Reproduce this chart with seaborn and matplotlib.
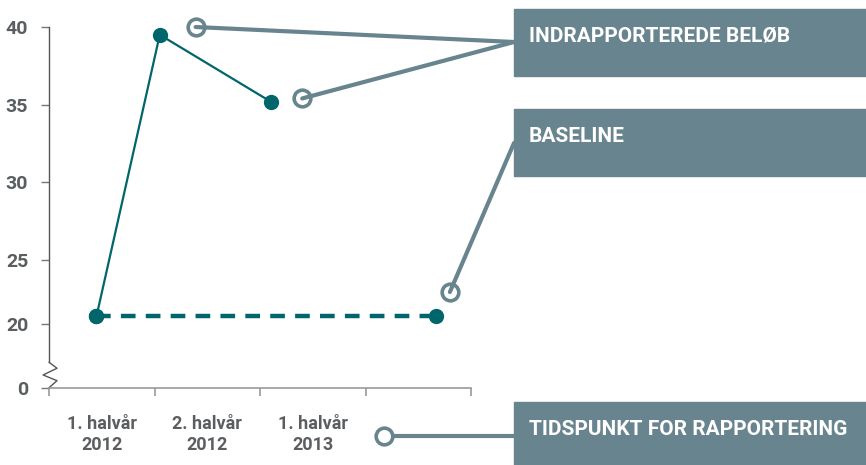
import numpy as np
import seaborn as sns
import matplotlib.pyplot as plt
from matplotlib.patches import Rectangle, ConnectionPatch
from matplotlib.lines import Line2D

# data
periods = ["1. halvår\n2012", "2. halvår\n2012", "1. halvår\n2013"]
rep_x = [0.45, 1.05, 2.1]
rep_y = [20.6, 39.5, 35.2]
base_x = [0.45, 3.67]
base_y = [20.6, 20.6]
y_ticks = [0, 20, 25, 30, 35, 40]

# annotation labels and the points they point at
labels = ["INDRAPPORTEREDE BELØB", "BASELINE", "TIDSPUNKT FOR RAPPORTERING"]
rep_note = [(1.39, 40), (2.4, 35.4)]
base_note = (3.8, 22.5)

teal = "#00666b"
slate = "#68848e"
grey = "#5b5e60"

sns.set_style("white")
plt.rcParams['font.family'] = ['Roboto', 'DejaVu Sans']

W, H = 866, 465
fig = plt.figure(figsize=(W / 100, H / 100), dpi=100)


def fx(px):
    return px / W


def fy(py):
    return 1 - py / H


ax = fig.add_axes([fx(49), fy(387.7), fx(471) - fx(49), fy(27) - fy(387.7)])

# broken y axis: squeeze 0-20, then 20-25, then 25-40
nodes_v = [-100, 0, 20, 25, 40, 100]
nodes_p = [-318, 0, 63.7, 127.7, 360.7, 1292.5]
ax.set_yscale('function', functions=(lambda v: np.interp(v, nodes_v, nodes_p),
                                     lambda p: np.interp(p, nodes_p, nodes_v)))

sns.lineplot(x=rep_x, y=rep_y, ax=ax, color=teal, lw=1.6, marker='o', ms=11,
             markeredgecolor=teal, mew=0, clip_on=False, zorder=3)
sns.lineplot(x=base_x, y=base_y, ax=ax, color=teal, lw=3.2, marker='o', ms=11,
             markeredgecolor=teal, mew=0, linestyle=(0, (3.3, 2.3)), clip_on=False, zorder=3)

ax.set_xlim(0, 4)
ax.set_ylim(0, 40)
ax.set_yticks(y_ticks)
ax.set_yticklabels([str(t) for t in y_ticks])
ax.set_xticks([0, 1, 2, 3, 4])
ax.set_xticklabels([])
ax.set_xticks([0.5, 1.5, 2.5], minor=True)
ax.set_xticklabels(periods, minor=True, linespacing=1.15)

ax.tick_params(axis='y', which='major', left=True, direction='out', length=6, width=1,
               color='#777777', pad=9, labelsize=14, labelcolor=grey)
ax.tick_params(axis='x', which='major', bottom=True, direction='out', length=6, width=1.2,
               color='#999999')
ax.tick_params(axis='x', which='minor', bottom=True, length=0, pad=20, labelsize=13,
               labelcolor=grey)
for t in ax.get_yticklabels() + ax.get_xticklabels(minor=True):
    t.set_fontweight('bold')

for s in ['top', 'right']:
    ax.spines[s].set_visible(False)
ax.spines['left'].set_color('#555555')
ax.spines['left'].set_linewidth(1)
ax.spines['left'].set_bounds(8, 40)
ax.spines['bottom'].set_color('#999999')
ax.spines['bottom'].set_linewidth(1.2)
ax.set_xlabel('')
ax.set_ylabel('')

# zigzag axis break
ax.plot([0, 0.019, -0.014, 0.019, 0], [8, 6.1, 4, 2.2, 0], color='#555555', lw=1,
        transform=ax.get_yaxis_transform(), clip_on=False)

# label boxes
box_tops = [9, 109, 402]
box_bottoms = [76, 176, 465]
for lab, top, bot in zip(labels, box_tops, box_bottoms):
    fig.add_artist(Rectangle((fx(514), fy(bot)), fx(866) - fx(514), fy(top) - fy(bot),
                             transform=fig.transFigure, color=slate, zorder=5))
    fig.text(fx(529), fy(top + 27), lab, color='white', fontsize=15, fontweight='bold',
             va='center', ha='left', zorder=6)

# connectors from circles to boxes
targets = [(fx(514), fy(42)), (fx(514), fy(42))]
for pt, tg in zip(rep_note, targets):
    con = ConnectionPatch(xyA=pt, coordsA=ax.transData, xyB=tg, coordsB=fig.transFigure,
                          color=slate, lw=3, zorder=4)
    fig.add_artist(con)
con = ConnectionPatch(xyA=base_note, coordsA=ax.transData, xyB=(fx(514), fy(143)),
                      coordsB=fig.transFigure, color=slate, lw=3, zorder=4)
fig.add_artist(con)
fig.add_artist(Line2D([fx(384), fx(514)], [fy(436), fy(436)], transform=fig.transFigure,
                      color=slate, lw=3, zorder=4))

note_x = [p[0] for p in rep_note] + [base_note[0]]
note_y = [p[1] for p in rep_note] + [base_note[1]]
ax.plot(note_x, note_y, 'o', ms=12, mfc='white', mec=slate, mew=2.6, clip_on=False, zorder=7)
fig.add_artist(Line2D([fx(384)], [fy(436)], marker='o', ms=12, mfc='white', mec=slate, mew=2.6,
                      transform=fig.transFigure, zorder=7))

plt.savefig('out.png', dpi=100)
